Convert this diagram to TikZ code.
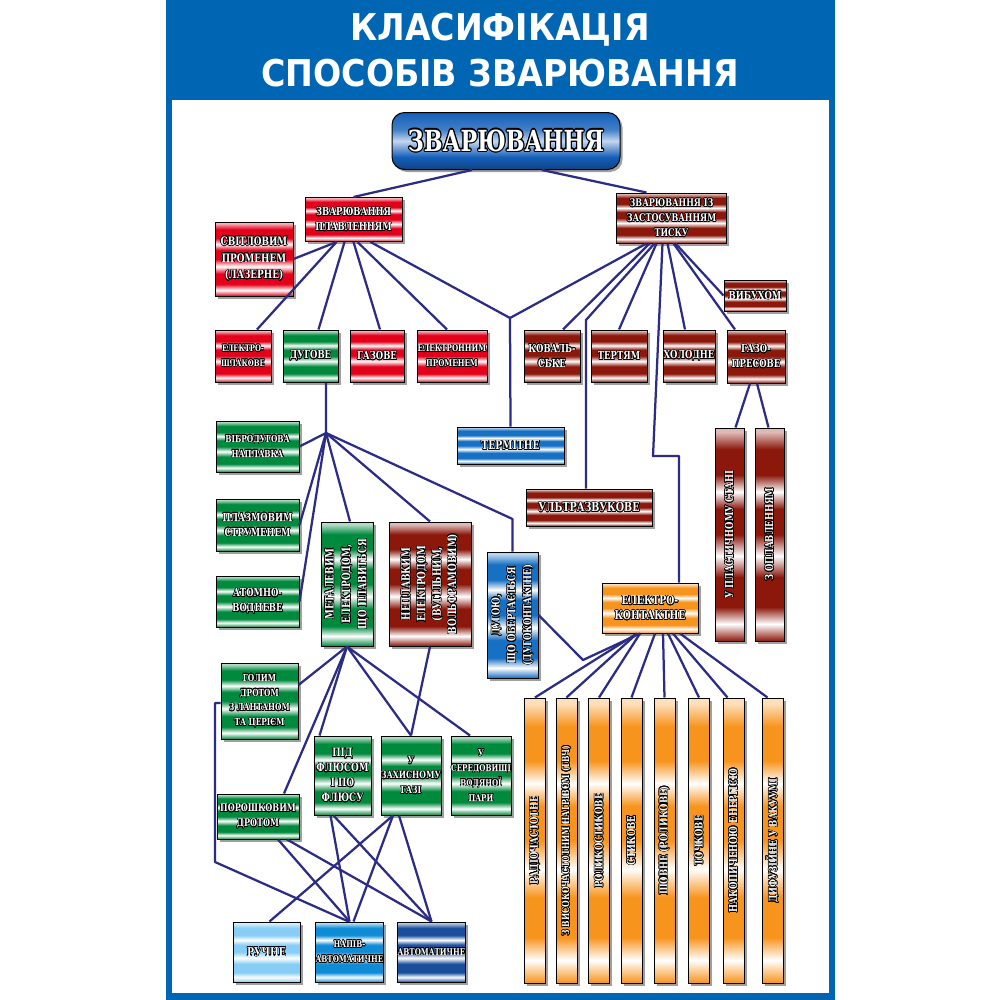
\documentclass[tikz,border=0pt]{standalone}
\usepackage{fontspec}
\usepackage{xcolor}
\usepackage{tikz}
\usepackage{contour}
\usetikzlibrary{calc, shadows}
\newfontfamily\boxfont[FakeStretch=0.85]{DejaVu Serif Condensed}
\newfontfamily\headfont{DejaVu Sans Condensed}
\contourlength{0.35pt}
\definecolor{posterblue}{RGB}{0, 102, 179}
\definecolor{wirenavy}{RGB}{44, 44, 135}
\definecolor{fusered}{RGB}{226, 0, 26}
\definecolor{arcgreen}{RGB}{0, 138, 62}
\definecolor{pressbrown}{RGB}{140, 24, 12}
\definecolor{specblue}{RGB}{22, 112, 196}
\definecolor{contorange}{RGB}{247, 148, 29}
\definecolor{paleblue}{RGB}{135, 205, 245}
\definecolor{semiblue}{RGB}{14, 140, 214}
\definecolor{autoblue}{RGB}{24, 78, 156}
\definecolor{rootblue}{RGB}{20, 95, 185}
\newcommand{\wt}[1]{\contour{black}{#1}}
% striped metal look, only 25bp..75bp is seen
\newcommand{\stripes}[2]{\pgfdeclareverticalshading{#1}{100bp}{%
  color(0bp)=(#2); color(25bp)=(#2); color(29bp)=(white); color(33bp)=(#2);
  color(40bp)=(#2); color(45bp)=(white); color(50bp)=(#2); color(56bp)=(#2);
  color(60bp)=(white); color(64bp)=(#2); color(70bp)=(#2);
  color(74bp)=(#2!30!white); color(100bp)=(#2!30!white)}}
\stripes{redbars}{fusered}
\stripes{greenbars}{arcgreen}
\stripes{brownbars}{pressbrown}
\stripes{bluebars}{specblue}
\stripes{orangebars}{contorange}
\stripes{palebars}{paleblue}
\stripes{semibars}{semiblue}
\stripes{autobars}{autoblue}
\pgfdeclareverticalshading{rootbars}{100bp}{color(0bp)=(rootblue!70!black);
  color(25bp)=(rootblue!70!black); color(36bp)=(rootblue); color(50bp)=(white!75!rootblue);
  color(60bp)=(rootblue!80!white); color(75bp)=(rootblue); color(100bp)=(rootblue)}

\begin{document}
\begin{tikzpicture}[x=0.2mm, y=-0.2mm,
    plate/.style 2 args={draw=black, line width=0.2mm, inner sep=0pt, align=center,
        minimum width=#1*0.2mm, minimum height=#2*0.2mm, text=white, shade,
        font=\boxfont\bfseries\fontsize{6.3}{8.5}\selectfont},
    box/.style 2 args={plate={#1}{#2},
        drop shadow={shadow xshift=0.5mm, shadow yshift=-0.5mm, fill=black!75}},
    vbox/.style 2 args={plate={#2}{#1}, rotate=90,
        drop shadow={shadow xshift=0.5mm, shadow yshift=-0.5mm, fill=black!75}},
    fs/.style={font=\boxfont\bfseries\fontsize{#1}{8.5}\selectfont},
    heading/.style={text=white, font=\headfont\bfseries\fontsize{21}{21}\selectfont},
    fusion/.style={shading=redbars},
    arcing/.style={shading=greenbars},
    pressing/.style={shading=brownbars},
    special/.style={shading=bluebars},
    contact/.style={shading=orangebars},
    wire/.style={draw=wirenavy, line width=0.45mm, line join=round}
  ]
  \useasboundingbox (0,0) rectangle (1000,1000);

  % poster frame and heading
  \fill[posterblue] (166,0) rectangle (835,1000);
  \fill[white] (172,100) rectangle (829,993);
  \node[heading] (head1) at (500,30) {КЛАСИФІКАЦІЯ};
  \node[heading] (head2) at (500,73) {СПОСОБІВ ЗВАРЮВАННЯ};

  \node[box={228}{57}, rounded corners=2.5mm, shading=rootbars,
        font=\boxfont\bfseries\fontsize{16.5}{16.5}\selectfont] (root) at (506,141)
        {\contourlength{0.6pt}\wt{ЗВАРЮВАННЯ}};

  % two main groups
  \node[box={97}{44}, fusion] (fuse) at (353.5,219.5) {\wt{ЗВАРЮВАННЯ}\\\wt{ПЛАВЛЕННЯМ}};
  \node[box={110}{50}, pressing, fs=6] (press) at (671.5,218)
        {\wt{ЗВАРЮВАННЯ ІЗ}\\\wt{ЗАСТОСУВАННЯМ}\\\wt{ТИСКУ}};

  % fusion welding
  \node[box={78}{74}, fusion, font=\boxfont\bfseries\fontsize{6.6}{9.5}\selectfont] (light)
        at (254,259) {\wt{СВІТЛОВИМ}\\\wt{ПРОМЕНЕМ}\\\wt{(ЛАЗЕРНЕ)}};
  \node[box={56}{52}, fusion, fs=5.1] (slag) at (243,356) {\wt{ЕЛЕКТРО-}\\\wt{ШЛАКОВЕ}};
  \node[box={55}{52}, arcing] (arc) at (310.5,356) {\wt{ДУГОВЕ}};
  \node[box={54}{52}, fusion] (gas) at (377,356) {\wt{ГАЗОВЕ}};
  \node[box={70}{52}, fusion, fs=5.3] (ebeam) at (452,356) {\wt{ЕЛЕКТРОННИМ}\\\wt{ПРОМЕНЕМ}};
  \node[box={107}{37}, special, fs=6.9] (therm) at (510.5,445.5) {\wt{ТЕРМІТНЕ}};

  % pressure welding
  \node[box={56}{52}, pressing] (forge) at (552,356) {\wt{КОВАЛЬ-}\\\wt{СЬКЕ}};
  \node[box={56}{52}, pressing] (fric) at (619,356) {\wt{ТЕРТЯМ}};
  \node[box={52}{52}, pressing] (cold) at (689,356) {\wt{ХОЛОДНЕ}};
  \node[box={58}{53}, pressing] (gaspr) at (756,356.5) {\wt{ГАЗО-}\\\wt{ПРЕСОВЕ}};
  \node[box={62}{31}, pressing] (expl) at (755,295.5) {\wt{ВИБУХОМ}};
  \node[box={126}{37}, pressing, fs=7.1] (ultra) at (589,507.5) {\wt{УЛЬТРАЗВУКОВЕ}};
  \node[vbox={29}{213}, pressing] (plast) at (729.5,534.5) {\wt{У ПЛАСТИЧНОМУ СТАНІ}};
  \node[vbox={29}{213}, pressing] (flash) at (769.5,534.5) {\wt{З ОПЛАВЛЕННЯМ}};

  % arc welding
  \node[box={83}{51}, arcing, fs=5.5] (vibro) at (257.5,446.5) {\wt{ВІБРОДУГОВА}\\\wt{НАПЛАВКА}};
  \node[box={83}{52}, arcing] (plasma) at (257.5,525) {\wt{ПЛАЗМОВИМ}\\\wt{СТРУМЕНЕМ}};
  \node[box={83}{51}, arcing] (atom) at (257.5,601.5) {\wt{АТОМНО-}\\\wt{ВОДНЕВЕ}};
  \node[vbox={52}{124}, arcing, font=\boxfont\bfseries\fontsize{6.6}{9.3}\selectfont] (melt)
        at (347,584) {\wt{МЕТАЛЕВИМ}\\\wt{ЕЛЕКТРОДОМ,}\\\wt{ЩО ПЛАВИТЬСЯ}};
  \node[vbox={82}{124}, pressing, font=\boxfont\bfseries\fontsize{6.6}{8.8}\selectfont] (nonmelt)
        at (430,584) {\wt{НЕПЛАВКИМ}\\\wt{ЕЛЕКТРОДОМ}\\\wt{(ВУГІЛЬНИМ,}\\\wt{ВОЛЬФРАМОВИМ)}};
  \node[vbox={51}{126}, special, font=\boxfont\bfseries\fontsize{6.3}{9}\selectfont] (rot)
        at (512.5,615) {\wt{ДУГОЮ,}\\\wt{ЩО ОБЕРТАЄТЬСЯ}\\\wt{(ДУГОКОНТАКТНЕ)}};
  \node[box={77}{76}, arcing, fs=5.5] (bare) at (259.5,701)
        {\wt{ГОЛИМ}\\\wt{ДРОТОМ}\\\wt{З ЛАНТАНОМ}\\\wt{ТА ЦЕРІЄМ}};
  \node[box={82}{45}, arcing, fs=6] (fcored) at (258,816.5) {\wt{ПОРОШКОВИМ}\\\wt{ДРОТОМ}};
  \node[box={57}{79}, arcing, fs=6.6] (subarc) at (342.5,775.5)
        {\wt{ПІД}\\\wt{ФЛЮСОМ}\\\wt{І ПО}\\\wt{ФЛЮСУ}};
  \node[box={60}{79}, arcing, fs=5.7] (shield) at (411,775.5) {\wt{У}\\\wt{ЗАХИСНОМУ}\\\wt{ГАЗІ}};
  \node[box={60}{79}, arcing, fs=5.3] (steam) at (481,775.5)
        {\wt{У}\\\wt{СЕРЕДОВИЩІ}\\\wt{ВОДЯНОЇ}\\\wt{ПАРИ}};
  \node[box={67}{60}, shading=palebars, fs=6.9] (manual) at (266.5,952) {\wt{РУЧНЕ}};
  \node[box={67}{60}, shading=semibars, fs=5.3] (semi) at (349.5,952) {\wt{НАПІВ-}\\\wt{АВТОМАТИЧНЕ}};
  \node[box={67}{60}, shading=autobars, fs=5.3] (auto) at (431.5,952) {\wt{АВТОМАТИЧНЕ}};

  % resistance welding
  \node[box={96}{50}, contact, fs=6.9] (resist) at (650,608) {\wt{ЕЛЕКТРО-}\\\wt{КОНТАКТНЕ}};
  \node[vbox={21}{285}, contact] (bar1) at (535,840.5) {\wt{РАДІОЧАСТОТНЕ}};
  \node[vbox={21}{285}, contact, fs=5.7] (bar2) at (566.5,840.5) {\wt{З ВИСОКОЧАСТОТНИМ НАГРІВОМ (ТВЧ)}};
  \node[vbox={21}{285}, contact] (bar3) at (599,840.5) {\wt{РОЛИКОСТИКОВЕ}};
  \node[vbox={21}{285}, contact] (bar4) at (631.5,840.5) {\wt{СТИКОВЕ}};
  \node[vbox={21}{285}, contact] (bar5) at (664.5,840.5) {\wt{ШОВНЕ (РОЛИКОВЕ)}};
  \node[vbox={21}{285}, contact] (bar6) at (699,840.5) {\wt{ТОЧКОВЕ}};
  \node[vbox={21}{285}, contact] (bar7) at (733.5,840.5) {\wt{НАКОПИЧЕНОЮ ЕНЕРГІЄЮ}};
  \node[vbox={21}{285}, contact] (bar8) at (772.5,840.5) {\wt{ДИФУЗІЙНЕ У ВАКУУМІ}};

  % bends and joints of the wires
  \coordinate (hubA) at (510,318);
  \coordinate (hubB) at (326,433);
  \coordinate (bendU) at (586,320);
  \coordinate (bendR1) at (653,456);
  \coordinate (bendR2) at (679,456);
  \coordinate (bendD) at (512.5,519);
  \coordinate (bendL1) at (215,703);
  \coordinate (bendL2) at (215,862);
  \coordinate (bendE) at (583,660);

  \draw[wire] ($(root.south)+(-34,0)$) -- (fuse.north);
  \draw[wire] ($(root.south)+(36,0)$) -- ($(press.north)+(-25,0)$);

  \draw[wire] ($(fuse.south)+(-17,0)$) -- (light.east);
  \draw[wire] ($(fuse.south)+(-17,0)$) -- ($(slag.north)+(14,0)$);
  \draw[wire] ($(fuse.south)+(-9,0)$) -- ($(arc.north)+(8,0)$);
  \draw[wire] (fuse.south) -- ($(gas.north)+(3,0)$);
  \draw[wire] ($(fuse.south)+(4,0)$) -- ($(ebeam.north)+(-5,0)$);
  \draw[wire] ($(fuse.south)+(17,0)$) -- (hubA) -- (therm.north);

  \draw[wire] ($(press.south)+(-25,0)$) -- (hubA);
  \draw[wire] ($(press.south)+(-22,0)$) -- ($(forge.north)+(11,0)$);
  \draw[wire] ($(press.south)+(-17,0)$) -- (bendU) -- (bendU |- ultra.north);
  \draw[wire] ($(press.south)+(-15,0)$) -- (fric.north);
  \draw[wire] ($(press.south)+(-9,0)$) -- (bendR1) -- (bendR2) -- (bendR2 |- resist.north);
  \draw[wire] ($(press.south)+(-4,0)$) -- ($(cold.north)+(-4,0)$);
  \draw[wire] ($(press.south)+(2,0)$) -- ($(gaspr.north)+(-21,0)$);
  \draw[wire] ($(press.south)+(4,0)$) -- (expl.west);
  \draw[wire] ($(gaspr.south)+(-6,0)$) -- ($(plast.east)+(6,0)$);
  \draw[wire] ($(gaspr.south)+(1,0)$) -- ($(flash.east)+(-1,0)$);

  \draw[wire] ($(arc.south)+(15.5,0)$) -- (hubB);
  \draw[wire] (hubB) -- (vibro.east);
  \draw[wire] (hubB) -- (plasma.east);
  \draw[wire] (hubB) -- (atom.east);
  \draw[wire] (hubB) -- ($(melt.east)+(3,0)$);
  \draw[wire] (hubB) -- (nonmelt.east);
  \draw[wire] (hubB) -- (bendD) -- (rot.east);

  \draw[wire] (melt.west) -- ($(bare.east)+(0,-16)$);
  \draw[wire] (melt.west) -- ($(fcored.north)+(26,0)$);
  \draw[wire] (melt.west) -- ($(subarc.north)+(-23,0)$);
  \draw[wire] (melt.west) -- (shield.north);
  \draw[wire] (melt.west) -- ($(steam.north)+(-11,0)$);
  \draw[wire] (nonmelt.west) -- (shield.north);

  \draw[wire] ($(bare.west)+(0,2)$) -- (bendL1) -- (bendL2) -- ($(semi.north)+(-1,0)$);
  \draw[wire] ($(fcored.south)+(20,0)$) -- (semi.north);
  \draw[wire] ($(fcored.south)+(29,0)$) -- (auto.north);
  \draw[wire] ($(subarc.south)+(-12,0)$) -- (semi.north);
  \draw[wire] ($(subarc.south)+(-9,0)$) -- (auto.north);
  \draw[wire] ($(shield.south)+(-18,0)$) -- ($(manual.north)+(3,0)$);
  \draw[wire] ($(shield.south)+(-18,0)$) -- ($(semi.north)+(4,0)$);
  \draw[wire] ($(shield.south)+(-12,0)$) -- (auto.north);

  \draw[wire] (rot.south) -- (bendE) -- ($(resist.south)+(-10,0)$);
  \draw[wire] ($(resist.south)+(-13,0)$) -- (bar1.east);
  \draw[wire] ($(resist.south)+(-13,0)$) -- (bar2.east);
  \draw[wire] ($(resist.south)+(-10,0)$) -- (bar3.east);
  \draw[wire] ($(resist.south)+(5,0)$) -- (bar4.east);
  \draw[wire] ($(resist.south)+(13,0)$) -- (bar5.east);
  \draw[wire] ($(resist.south)+(18,0)$) -- (bar6.east);
  \draw[wire] ($(resist.south)+(23,0)$) -- ($(bar7.east)+(-6,0)$);
  \draw[wire] ($(resist.south)+(30,0)$) -- ($(bar8.east)+(-5,0)$);
\end{tikzpicture}
\end{document}
